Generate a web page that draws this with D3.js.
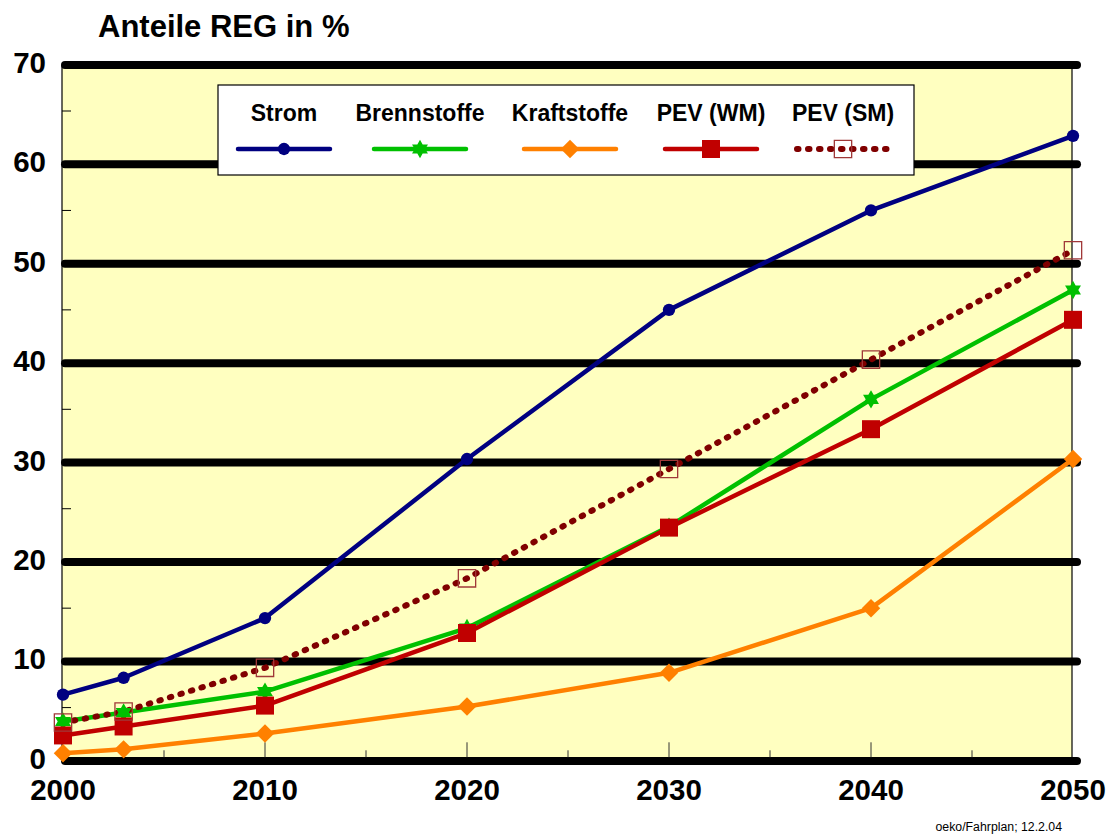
<!DOCTYPE html>
<html>
<head>
<meta charset="utf-8">
<script src="https://cdn.jsdelivr.net/npm/d3@7"></script>
<style>
  html, body { margin: 0; padding: 0; background: #ffffff; }
  svg { display: block; font-family: Arial, "Liberation Sans", Helvetica, sans-serif; }
</style>
</head>
<body>
<svg id="chart" width="1112" height="836"></svg>
<script>
// Shares of renewable energy (REG) in percent
const years = [2000, 2003, 2010, 2020, 2030, 2040, 2050];
const strom        = [6.3, 8.0, 14.0, 30.0, 45.0, 55.0, 62.5];
const brennstoffe  = [3.6, 4.5, 6.6, 13.0, 23.2, 36.0, 47.0];
const kraftstoffe  = [0.4, 0.8, 2.4, 5.1, 8.5, 15.0, 30.0];
const pevWM        = [2.2, 3.1, 5.2, 12.5, 23.1, 33.0, 44.0];
const pevSM        = [3.5, 4.6, 9.0, 18.0, 29.0, 40.0, 51.0];

const seriesNames  = ["Strom", "Brennstoffe", "Kraftstoffe", "PEV (WM)", "PEV (SM)"];
const yTicks       = [0, 10, 20, 30, 40, 50, 60, 70];
const yMinorTicks  = [5, 15, 25, 35, 45, 55, 65];
const xTicks       = [2000, 2010, 2020, 2030, 2040, 2050];
const xMinorTicks  = [2005, 2015, 2025, 2035, 2045];
const titleText    = "Anteile REG in %";
const sourceText   = "oeko/Fahrplan; 12.2.04";

const svg = d3.select("#chart");

const x = d3.scaleLinear().domain([2000, 2050]).range([63, 1073]);
const y = d3.scaleLinear().domain([0, 70]).range([757.3, 61.3]);
const GRID_SHIFT = 3.6;

// six-pointed star symbol
const hexagram = {
  draw(ctx, size) {
    const R = Math.sqrt(size) * 0.62;
    const r = R / Math.sqrt(3);
    for (let i = 0; i < 12; i++) {
      const a = -Math.PI / 2 + i * Math.PI / 6;
      const rad = i % 2 === 0 ? R : r;
      const px = Math.cos(a) * rad, py = Math.sin(a) * rad;
      if (i === 0) ctx.moveTo(px, py); else ctx.lineTo(px, py);
    }
    ctx.closePath();
  }
};

// square rotated by 45 degrees
const rhombus = {
  draw(ctx, size) {
    const h = Math.sqrt(size / 2);
    ctx.moveTo(0, -h);
    ctx.lineTo(h, 0);
    ctx.lineTo(0, h);
    ctx.lineTo(-h, 0);
    ctx.closePath();
  }
};

const styles = [
  { values: strom,       color: "#000080", width: 4.5, dash: null, symbol: d3.symbolCircle, size: 120, fill: "#000080", stroke: "none", sw: 0 },
  { values: brennstoffe, color: "#00c000", width: 4.5, dash: null, symbol: hexagram,        size: 220, fill: "#00c000", stroke: "none", sw: 0 },
  { values: kraftstoffe, color: "#ff8000", width: 4.5, dash: null, symbol: rhombus,         size: 170, fill: "#ff8000", stroke: "none", sw: 0 },
  { values: pevWM,       color: "#c00000", width: 4.5, dash: null, symbol: d3.symbolSquare, size: 324, fill: "#c00000", stroke: "none", sw: 0 },
  { values: pevSM,       color: "#800000", width: 6, dash: "1.5,9.5", symbol: d3.symbolSquare, size: 300, fill: "none", stroke: "#a03838", sw: 1.3 }
];

// plot background
svg.append("rect")
  .attr("x", x(2000) - 1).attr("y", y(70) + 1)
  .attr("width", x(2050) - x(2000)).attr("height", y(0) - y(70) + 2)
  .attr("fill", "#ffffc0");

// horizontal grid bands
svg.append("g").selectAll("line").data(yTicks).join("line")
  .attr("x1", x(2000) + 2).attr("x2", x(2050) + 4)
  .attr("y1", d => y(d) + GRID_SHIFT).attr("y2", d => y(d) + GRID_SHIFT)
  .attr("stroke", "#000").attr("stroke-width", 8).attr("stroke-linecap", "round");

// left axis and right frame
svg.append("line").attr("x1", x(2000) - 1).attr("x2", x(2000) - 1)
  .attr("y1", y(70) + GRID_SHIFT).attr("y2", y(0) + GRID_SHIFT)
  .attr("stroke", "#000").attr("stroke-width", 1.2);
svg.append("line").attr("x1", x(2050) - 1).attr("x2", x(2050) - 1)
  .attr("y1", y(70) + GRID_SHIFT).attr("y2", y(0) + GRID_SHIFT)
  .attr("stroke", "#000").attr("stroke-width", 1.2);

// y minor ticks
svg.append("g").selectAll("line").data(yMinorTicks).join("line")
  .attr("x1", x(2000) - 1).attr("x2", x(2000) + 8)
  .attr("y1", d => y(d)).attr("y2", d => y(d))
  .attr("stroke", "#000").attr("stroke-width", 1);

// x ticks (inside, upward)
svg.append("g").selectAll("line").data(xTicks.slice(1, -1)).join("line")
  .attr("x1", d => x(d)).attr("x2", d => x(d))
  .attr("y1", y(0)).attr("y2", y(0) - 15)
  .attr("stroke", "#333").attr("stroke-width", 1);
svg.append("g").selectAll("line").data(xMinorTicks).join("line")
  .attr("x1", d => x(d)).attr("x2", d => x(d))
  .attr("y1", y(0)).attr("y2", y(0) - 7)
  .attr("stroke", "#333").attr("stroke-width", 1);

// y tick labels
svg.append("g").selectAll("text").data(yTicks).join("text")
  .attr("x", 46).attr("y", d => y(d) + GRID_SHIFT + 8)
  .attr("text-anchor", "end")
  .attr("font-size", 29.5).attr("font-weight", "bold").attr("fill", "#000")
  .text(d => d);

// x tick labels
svg.append("g").selectAll("text").data(xTicks).join("text")
  .attr("x", d => x(d)).attr("y", 800)
  .attr("text-anchor", "middle")
  .attr("font-size", 29.5).attr("font-weight", "bold").attr("fill", "#000")
  .text(d => d);

// series lines and markers
const line = d3.line().x((d, i) => x(years[i])).y(d => y(d));
styles.forEach(s => {
  svg.append("path")
    .attr("d", line(s.values))
    .attr("fill", "none")
    .attr("stroke", s.color)
    .attr("stroke-width", s.width)
    .attr("stroke-linejoin", "round")
    .attr("stroke-linecap", s.dash ? "round" : "butt")
    .attr("stroke-dasharray", s.dash);
});
styles.forEach(s => {
  svg.append("g").selectAll("path").data(s.values).join("path")
    .attr("transform", (d, i) => `translate(${x(years[i])},${y(d)})`)
    .attr("d", d3.symbol().type(s.symbol).size(s.size)())
    .attr("fill", s.fill)
    .attr("stroke", s.stroke)
    .attr("stroke-width", s.sw);
});

// legend
const legend = svg.append("g");
legend.append("rect")
  .attr("x", 218).attr("y", 85).attr("width", 696).attr("height", 90)
  .attr("fill", "#ffffff").attr("stroke", "#000").attr("stroke-width", 1.2);
const legendCenters = [284, 420, 570, 711, 843];
styles.forEach((s, i) => {
  const cx = legendCenters[i];
  legend.append("text")
    .attr("x", cx).attr("y", 121)
    .attr("text-anchor", "middle")
    .attr("font-size", 23).attr("font-weight", "bold").attr("fill", "#000")
    .text(seriesNames[i]);
  legend.append("line")
    .attr("x1", cx - 46).attr("x2", cx + 46)
    .attr("y1", 149).attr("y2", 149)
    .attr("stroke", s.color).attr("stroke-width", s.width)
    .attr("stroke-linecap", "round")
    .attr("stroke-dasharray", s.dash);
  legend.append("path")
    .attr("transform", `translate(${cx},149)`)
    .attr("d", d3.symbol().type(s.symbol).size(s.size)())
    .attr("fill", s.fill).attr("stroke", s.stroke).attr("stroke-width", s.sw);
});

// title
svg.append("text")
  .attr("x", 98).attr("y", 37)
  .attr("font-size", 31).attr("font-weight", "bold").attr("fill", "#000")
  .text(titleText);

// source note
svg.append("text")
  .attr("x", 1062).attr("y", 831)
  .attr("text-anchor", "end")
  .attr("font-size", 12.3).attr("fill", "#000")
  .text(sourceText);
</script>
</body>
</html>
